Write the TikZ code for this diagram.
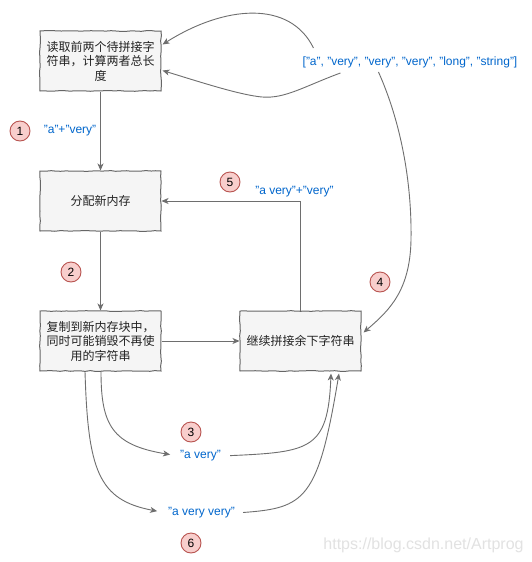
\documentclass[tikz,border=0pt]{standalone}
\usepackage{fontspec}
\setmainfont{Liberation Sans}
\newfontfamily\cjk{Noto Sans CJK SC}
\usetikzlibrary{arrows.meta,calc,decorations.pathmorphing}
\definecolor{boxfill}{HTML}{F5F5F5}
\definecolor{boxline}{HTML}{666666}
\definecolor{edgecol}{HTML}{6E6E6E}
\definecolor{labblue}{HTML}{0066CC}
\definecolor{circfill}{HTML}{F8CECC}
\definecolor{circline}{HTML}{B85450}
\definecolor{wmark}{HTML}{E2E2E2}
\definecolor{cjktext}{HTML}{222222}
\begin{document}
\begin{tikzpicture}[x=1pt,y=-1pt,
  stepbox/.style={draw=boxline,fill=boxfill,line width=1pt,minimum width=121pt,minimum height=60pt,
    inner sep=0pt,align=center,text=cjktext,font=\cjk\fontsize{12}{14.5}\selectfont,
    decorate,decoration={random steps,segment length=5pt,amplitude=0.4pt}},
  conn/.style={draw=edgecol,line width=0.9pt,-{Stealth[length=7pt,width=6pt,inset=2pt]}},
  lab/.style={text=labblue,font=\fontsize{12}{14}\selectfont,inner sep=1pt},
  numcirc/.style={circle,draw=circline,fill=circfill,line width=0.9pt,minimum size=20pt,inner sep=0pt,
    font=\fontsize{12}{14}\selectfont}]
\pgfmathsetseed{7}
\useasboundingbox (0,0) rectangle (531,562);
\fill[white] (0,0) rectangle (531,562);

% boxes
\node[stepbox] (b1) at (100.5,61) {读取前两个待拼接字\\符串，计算两者总长\\度};
\node[stepbox] (b2) at (100.5,201) {分配新内存};
\node[stepbox] (b3) at (100.5,341) {复制到新内存块中，\\同时可能销毁不再使\\用的字符串};
\node[stepbox] (b4) at (300.5,341) {继续拼接余下字符串};

% labels
\node[lab] (L) at (410,62) {["a", "very", "very", "very", "long", "string"]};
\node[lab] (l1) at (70,131) {"a"+"very"};
\node[lab] (l5) at (294.5,192) {"a very"+"very"};
\node[lab] (l3) at (200.5,456) {"a very"};
\node[lab] (l6) at (201.5,513) {"a very very"};

% circles
\node[numcirc] (c1) at (20,131) {1};
\node[numcirc] (c2) at (71,272) {2};
\node[numcirc] (c3) at (191,432) {3};
\node[numcirc] (c4) at (380,282) {4};
\node[numcirc] (c5) at (230,182) {5};
\node[numcirc] (c6) at (191,543) {6};

% watermark
\node[text=wmark,font=\fontsize{16}{18}\selectfont,inner sep=0pt] (wm) at (423.5,545) {https://blog.csdn.net/Artprog};

% anchor coordinates
\coordinate (s1) at ($(L.west)+(12,-14)$);
\coordinate (s2) at ($(L.west)+(39,11)$);
\coordinate (s3) at ($(L.west)+(77,10)$);
\coordinate (t1) at ($(b1.north east)+(1,14)$);
\coordinate (t2) at ($(b1.north east)+(1,40)$);
\coordinate (t4) at ($(b4.north east)+(2,22)$);
\coordinate (b3a) at ($(b3.south)+(0.5,0)$);
\coordinate (b3b) at ($(b3.south)+(-15.5,0)$);
\coordinate (b4a) at ($(b4.south)+(30.5,2)$);
\coordinate (b4b) at ($(b4.south)+(38.5,2)$);

% straight connectors
\draw[conn] (b1.south) -- (b2.north);
\draw[conn] (b2.south) -- (b3.north);
\draw[conn] (b3.east) -- (b4.west);
\draw[conn] (b4.north) |- (b2.east);

% curves from the list
\draw[conn] (s1) .. controls (290,0) and (225,5) .. (t1);
\draw[conn] (s2) .. controls (305,86) and (285,99) .. (262,97) .. controls (240,95) and (200,82) .. (t2);
\draw[conn] (s3) .. controls (400,120) and (412,180) .. (411,240) .. controls (410,290) and (390,310) .. (t4);

% lower curves
\draw[conn,shorten >=9pt] (b3a) .. controls (101,425) and (112,445) .. (l3.west);
\draw[conn,shorten <=8pt] (l3.east) .. controls (310,452) and (328,450) .. (b4a);
\draw[conn,shorten >=10pt] (b3b) .. controls (88,470) and (98,500) .. (l6.west);
\draw[conn,shorten <=7pt] (l6.east) .. controls (305,508) and (318,500) .. (b4b);
\end{tikzpicture}
\end{document}
